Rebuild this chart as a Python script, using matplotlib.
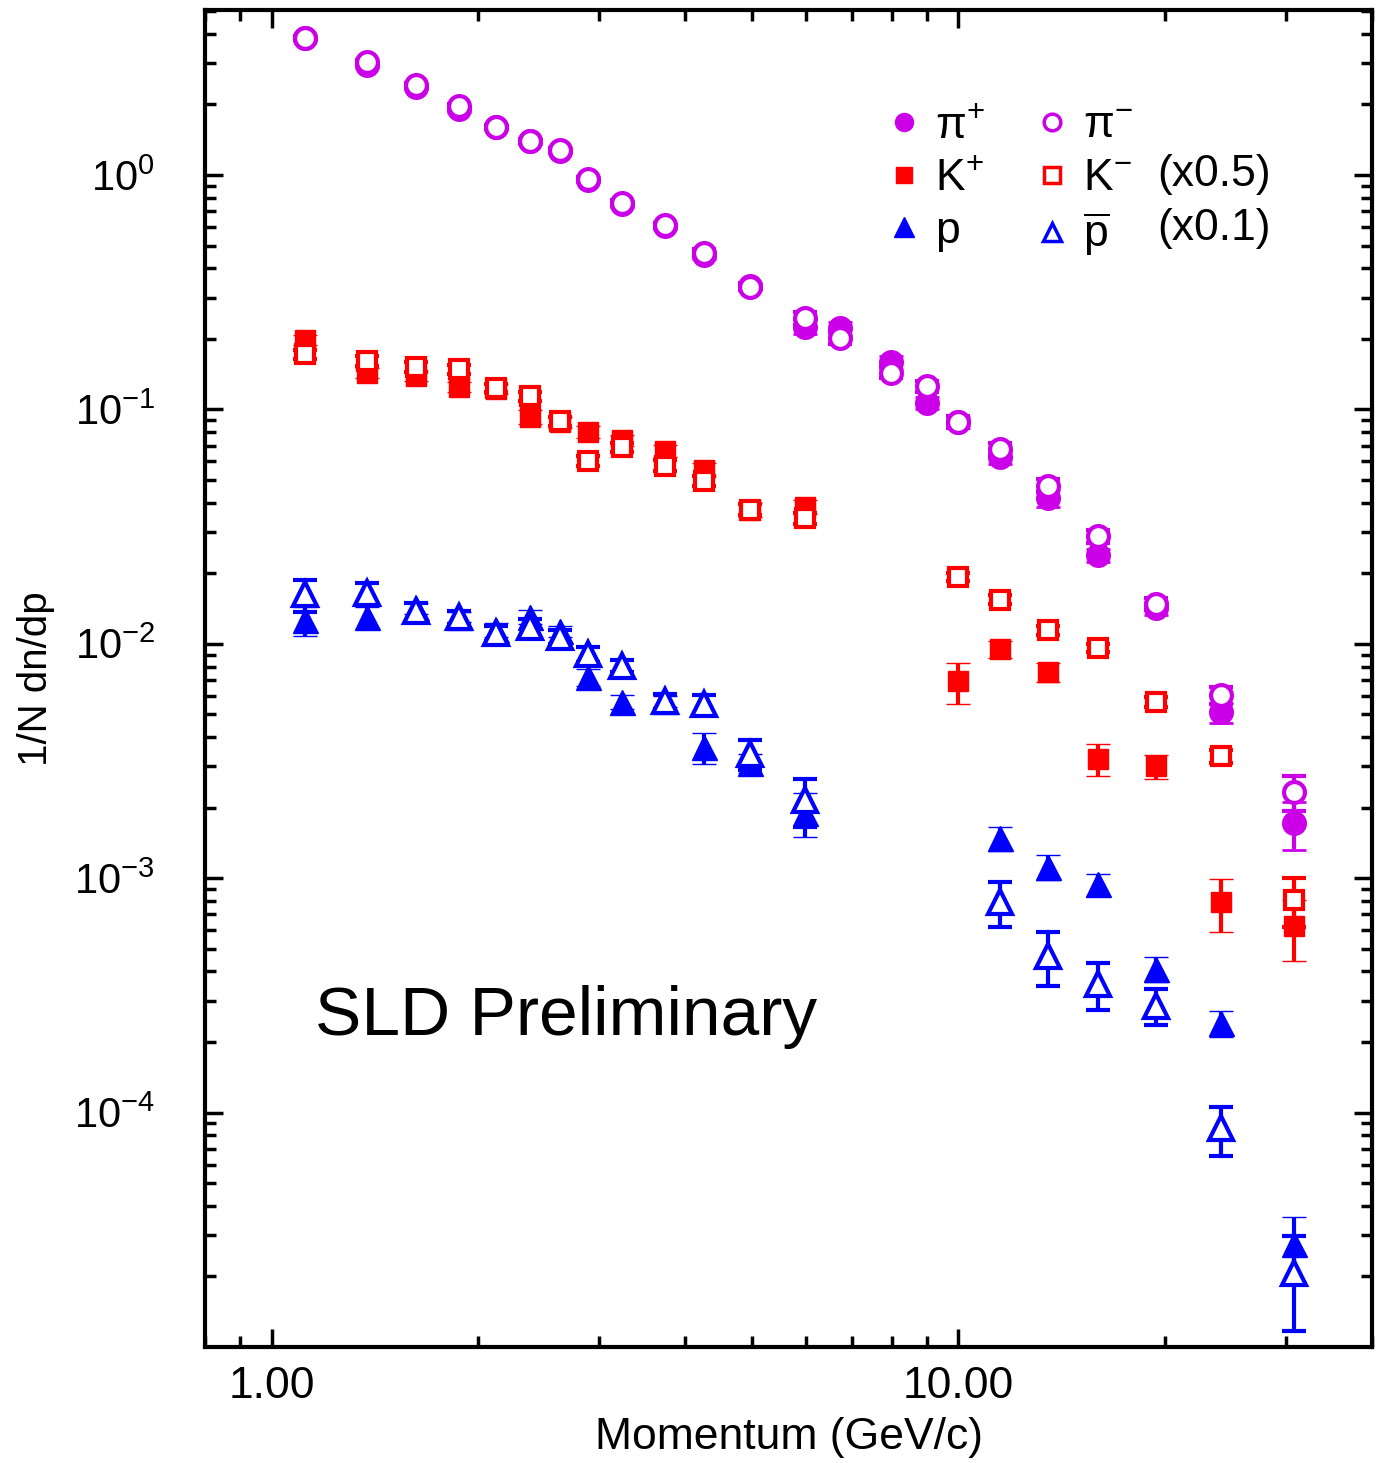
import numpy as np
import matplotlib.pyplot as plt
from matplotlib.lines import Line2D
from matplotlib.ticker import LogLocator, NullFormatter, FixedLocator

plt.rcParams['font.family'] = ['Liberation Sans', 'DejaVu Sans']
plt.rcParams['mathtext.fontset'] = 'custom'
plt.rcParams['mathtext.rm'] = 'Liberation Sans'
plt.rcParams['mathtext.it'] = 'Liberation Sans:italic'
plt.rcParams['mathtext.default'] = 'regular'

# ------- data -------
pi_x = [1.12, 1.375, 1.62, 1.874, 2.12, 2.378, 2.63, 2.888, 3.236, 3.74, 4.264, 4.975,
        5.98, 6.73, 7.98, 9.01, 10.0, 11.48, 13.48, 15.95, 19.37, 24.09, 30.78]
pi_plus = [3.85, 2.95, 2.37, 1.91, 1.60, 1.39, 1.27, 0.955, 0.75, 0.605, 0.455, 0.335,
           0.2245, 0.222, 0.159, 0.1064, 0.088, 0.0626, 0.0418, 0.0239, 0.0142, 0.00511, 0.00172]
pi_plus_err = [0.08, 0.06, 0.05, 0.05, 0.03, 0.03, 0.03, 0.02, 0.02, 0.015, 0.015, 0.012,
               0.015, 0.015, 0.01, 0.006, 0.005, 0.004, 0.0035, 0.0015, 0.0009, 0.0005, 0.0004]
pi_minus = [3.85, 3.04, 2.41, 1.96, 1.60, 1.40, 1.28, 0.96, 0.763, 0.610, 0.467, 0.334,
            0.245, 0.2015, 0.1436, 0.1257, 0.0883, 0.0677, 0.0473, 0.0288, 0.01483, 0.00606, 0.00233]
pi_minus_err = [0.08, 0.06, 0.05, 0.04, 0.03, 0.03, 0.03, 0.02, 0.02, 0.015, 0.015, 0.012,
                0.015, 0.012, 0.008, 0.007, 0.005, 0.004, 0.003, 0.0018, 0.0009, 0.0005, 0.0004]

k_x = [1.12, 1.375, 1.62, 1.874, 2.12, 2.378, 2.63, 2.888, 3.236, 3.74, 4.264, 4.975,
       5.98, 10.0, 11.48, 13.48, 15.95, 19.37, 24.09, 30.78]
k_plus = [0.1976, 0.1433, 0.1387, 0.1249, 0.122, 0.093, 0.088, 0.0802, 0.0739, 0.0667, 0.0553, 0.0374,
          0.0384, 0.00692, 0.00948, 0.00759, 0.00324, 0.0030, 0.00079, 0.000625]
k_plus_err = [0.01, 0.007, 0.007, 0.006, 0.006, 0.006, 0.005, 0.005, 0.004, 0.004, 0.0035, 0.0025,
              0.0025, 0.0014, 0.0008, 0.0007, 0.0005, 0.00035, 0.0002, 0.00018]
k_minus = [0.1717, 0.1612, 0.152, 0.1482, 0.1237, 0.114, 0.0891, 0.0602, 0.069, 0.0576, 0.0497, 0.0374,
           0.0343, 0.0193, 0.01545, 0.01143, 0.0096, 0.00565, 0.00331, 0.00081]
k_minus_err = [0.008, 0.008, 0.007, 0.007, 0.005, 0.005, 0.004, 0.003, 0.003, 0.003, 0.0025, 0.002,
               0.002, 0.0008, 0.0007, 0.0005, 0.0004, 0.0003, 0.0002, 0.00019]

p_x = [1.12, 1.375, 1.62, 1.874, 2.12, 2.378, 2.63, 2.888, 3.236, 3.74, 4.264, 4.975,
       5.98, 11.48, 13.48, 15.95, 19.37, 24.09, 30.78]
p = [0.0126, 0.0130, 0.0142, 0.0130, 0.0115, 0.0130, 0.0113, 0.00722, 0.00565, 0.0057, 0.00363, 0.0031,
     0.0019, 0.00148, 0.00112, 0.00094, 0.00041, 0.00024, 2.74e-5]
p_err = [0.0018, 0.0014, 0.0008, 0.0006, 0.0008, 0.0009, 0.0006, 0.0006, 0.0004, 0.0003, 0.00055, 0.0003,
         0.0004, 0.00018, 0.00014, 0.0001, 0.00005, 0.00003, 0.85e-5]
pbar = [0.01623, 0.0164, 0.01377, 0.01295, 0.01107, 0.0118, 0.0107, 0.00903, 0.00806, 0.00569, 0.00556, 0.0034,
        0.00215, 0.000789, 0.000467, 0.000353, 0.000286, 8.56e-5, 2.07e-5]
pbar_err = [0.0025, 0.0018, 0.0012, 0.0008, 0.0008, 0.001, 0.0007, 0.0007, 0.0005, 0.0004, 0.0005, 0.0005,
            0.0005, 0.00017, 0.00012, 0.00008, 0.00005, 2e-5, 0.9e-5]

PURPLE = '#cc00e8'
RED = '#ff0000'
BLUE = '#0000ff'

fig = plt.figure(figsize=(13.77, 14.63), dpi=100)
ax = fig.add_axes([0.1489, 0.0793, 0.8475, 0.9139])

eb = dict(ls='none', elinewidth=3, capsize=8.5, capthick=3)

# filled first, open (white face) drawn on top
ax.errorbar(pi_x, pi_plus, yerr=pi_plus_err, marker='o', ms=16, mew=2, color=PURPLE, **eb)
ax.errorbar(pi_x, pi_minus, yerr=pi_minus_err, marker='o', ms=15, mew=3, color=PURPLE,
            mfc='white', **eb)
ax.errorbar(k_x, k_plus, yerr=k_plus_err, marker='s', ms=14, mew=1, color=RED, **eb)
ax.errorbar(k_x, k_minus, yerr=k_minus_err, marker='s', ms=13, mew=3, color=RED,
            mfc='white', **eb)
ax.errorbar(p_x, p, yerr=p_err, marker='^', ms=18, mew=1, color=BLUE, **eb)
ax.errorbar(p_x, pbar, yerr=pbar_err, marker='^', ms=17, mew=3, color=BLUE,
            mfc='white', **eb)

ax.set_xscale('log')
ax.set_yscale('log')
ax.set_xlim(0.8, 40)
ax.set_ylim(1e-5, 5.06)

ax.xaxis.set_major_locator(FixedLocator([1, 10]))
ax.set_xticklabels(['1.00', '10.00'])
ax.xaxis.set_minor_locator(LogLocator(base=10, subs=np.arange(2, 10)))
ax.xaxis.set_minor_formatter(NullFormatter())

ax.set_yticks([1, 1e-1, 1e-2, 1e-3, 1e-4])
ax.set_yticklabels([r'$10^{0}$', r'$10^{-1}$', r'$10^{-2}$', r'$10^{-3}$', r'$10^{-4}$'])
ax.yaxis.set_minor_locator(LogLocator(base=10, subs=np.arange(2, 10)))
ax.yaxis.set_minor_formatter(NullFormatter())

ax.tick_params(which='both', direction='in', top=True, right=True, width=2.5)
ax.tick_params(which='major', length=13)
ax.tick_params(which='minor', length=8)
ax.tick_params(axis='x', which='major', labelsize=32, pad=14)
ax.tick_params(axis='y', which='major', labelsize=30, pad=36)
for s in ax.spines.values():
    s.set_linewidth(3)

ax.set_xlabel('Momentum (GeV/c)', fontsize=32, labelpad=7)
ax.set_ylabel('1/N dn/dp', fontsize=29, labelpad=14)

ax.text(0.0943, 0.2334, 'SLD Preliminary', transform=ax.transAxes, fontsize=50,
        ha='left', va='baseline')

handles = [
    Line2D([], [], ls='none', marker='o', ms=13, mew=1, color=PURPLE),
    Line2D([], [], ls='none', marker='s', ms=11, mew=1, color=RED),
    Line2D([], [], ls='none', marker='^', ms=14, mew=1, color=BLUE),
    Line2D([], [], ls='none', marker='o', ms=12, mew=2.5, color=PURPLE, mfc='white'),
    Line2D([], [], ls='none', marker='s', ms=11, mew=2.5, color=RED, mfc='white'),
    Line2D([], [], ls='none', marker='^', ms=13, mew=2.5, color=BLUE, mfc='white'),
]
labels = [r'$\pi^{+}$', r'K$^{+}$', 'p', r'$\pi^{-}$', r'K$^{-}$', r'$\overline{p}$']
ax.legend(handles, labels, ncol=2, loc='upper left', bbox_to_anchor=(0.561, 0.945),
          frameon=False, fontsize=32, borderpad=0, handlelength=1.0, handletextpad=0.2,
          columnspacing=1.0, labelspacing=0.26)

ax.text(0.8158, 0.8773, '(x0.5)', transform=ax.transAxes, fontsize=32, ha='left', va='center')
ax.text(0.8158, 0.8369, '(x0.1)', transform=ax.transAxes, fontsize=32, ha='left', va='center')

fig.savefig('out.png', dpi=100)
